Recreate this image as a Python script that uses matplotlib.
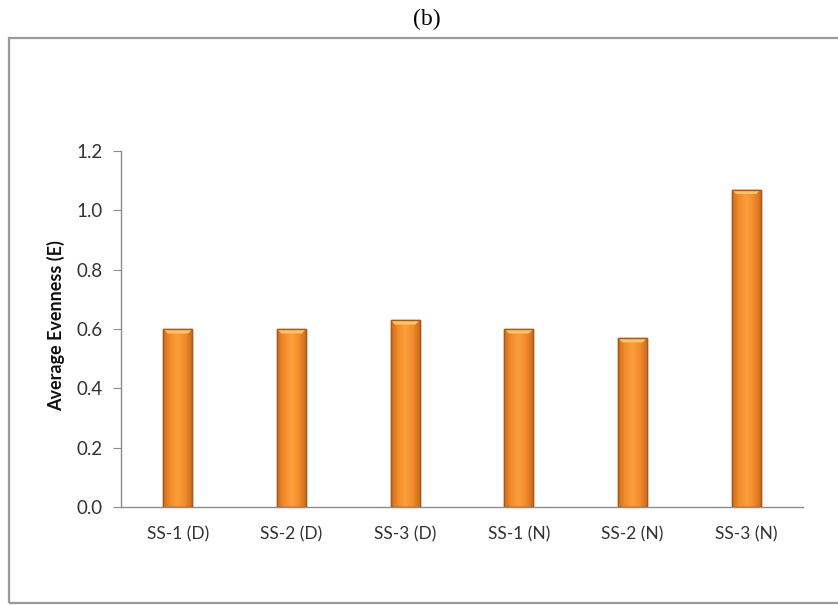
import matplotlib
matplotlib.use("Agg")
import matplotlib.pyplot as plt
import numpy as np
from matplotlib.patches import Rectangle
from matplotlib.colors import LinearSegmentedColormap

categories = ["SS-1 (D)", "SS-2 (D)", "SS-3 (D)", "SS-1 (N)", "SS-2 (N)", "SS-3 (N)"]
values = [0.60, 0.60, 0.63, 0.60, 0.57, 1.07]
yticks = [0.0, 0.2, 0.4, 0.6, 0.8, 1.0, 1.2]
ylabel = "Average Evenness (E)"
title = "(b)"

fig = plt.figure(figsize=(8.38, 6.05), dpi=100)
fig.patch.set_facecolor("white")

# outer frame
fig.patches.append(Rectangle((9/838, 2/605), 1.2, (605-38-2)/605, transform=fig.transFigure,
                             fill=False, edgecolor="#9a9a9a", linewidth=1.6, zorder=0))
fig.text(427/838, 1-19/605, title, ha="center", va="center", fontsize=17,
         family="Liberation Serif")

ax = fig.add_axes([121/838, 98/605, 682/838, 356/605])
x = np.arange(len(categories))
width = 0.255
bars = ax.bar(x, values, width=width, color="#F7952F", edgecolor="#A85A1C", linewidth=1.0, zorder=2)

cmap = LinearSegmentedColormap.from_list("o", ["#CD6D1E", "#F48D2C", "#FA9F3C", "#F48D2C", "#CD6D1E"])
grad = np.linspace(0, 1, 64).reshape(1, -1)
for b in bars:
    x0, w, h = b.get_x(), b.get_width(), b.get_height()
    im = ax.imshow(grad, extent=(x0, x0 + w, 0, h), aspect="auto", cmap=cmap, zorder=2.5,
                   origin="lower")
    im.set_clip_path(b)
    # top bevel
    ax.add_patch(plt.Polygon([(x0, h), (x0 + w, h), (x0 + w*0.85, h - 0.015), (x0 + w*0.15, h - 0.015)],
                             closed=True, facecolor="#FFC46A", edgecolor="none", zorder=2.7))
    ax.add_patch(Rectangle((x0, 0), w, h, fill=False, edgecolor="#A85A1C", linewidth=1.0, zorder=3))

ax.set_xlim(-0.5, len(categories) - 0.5)
ax.set_ylim(0, 1.2)
ax.set_yticks(yticks)
ax.set_yticklabels([f"{t:.1f}" for t in yticks])
ax.set_xticks(x)
ax.set_xticklabels(categories)

for s in ["top", "right"]:
    ax.spines[s].set_visible(False)
for s in ["left", "bottom"]:
    ax.spines[s].set_color("#8c8c8c")
    ax.spines[s].set_linewidth(1.0)

ax.tick_params(axis="y", length=6, color="#8c8c8c", labelsize=13.5, pad=7, labelcolor="#333333")
ax.tick_params(axis="x", length=0, labelsize=12.5, pad=14, labelcolor="#333333")
for lab in ax.get_xticklabels() + ax.get_yticklabels():
    lab.set_family("Lato")

ax.set_ylabel(ylabel, fontsize=13, fontweight="bold", family="Lato", color="#111111")
ax.yaxis.set_label_coords(-0.082, 0.51)

fig.savefig("out.png", dpi=100)
